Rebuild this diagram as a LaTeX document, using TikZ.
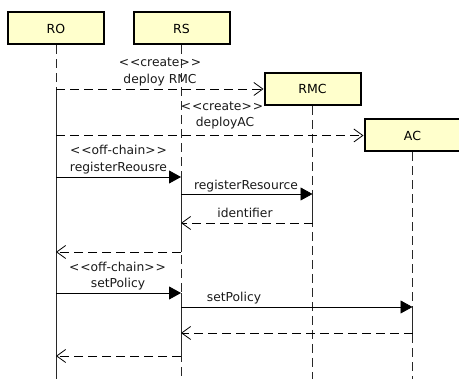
\documentclass[tikz,border=0pt]{standalone}
\usepackage{fontspec}
\setmainfont{DejaVu Sans}
\usetikzlibrary{arrows.meta}
\definecolor{headfill}{RGB}{255,255,204}
\definecolor{lineink}{RGB}{40,40,40}
\begin{document}
\begin{tikzpicture}[x=1pt,y=-1pt,
  lifehead/.style={draw=black, line width=2pt, fill=headfill,
    minimum width=96pt, minimum height=32pt, inner sep=0pt,
    font=\fontsize{12.5}{14}\selectfont},
  lifeline/.style={draw=lineink, line width=0.8pt, dash pattern=on 9pt off 5pt},
  actbar/.style={draw=lineink, line width=0.8pt},
  callmsg/.style={draw=black, line width=0.8pt,
    -{Triangle[length=12pt,width=13pt]}},
  replymsg/.style={draw=black, line width=0.8pt, dash pattern=on 9pt off 5pt,
    -{Straight Barb[length=9pt,width=13pt,line width=0.8pt]}},
  lbl/.style={font=\fontsize{12.3}{14}\selectfont, inner sep=0pt, text=black!90}
]
\useasboundingbox (0,0) rectangle (459,379);

% participants
\node[lifehead] (ro)  at (56,28.5)    {RO};
\node[lifehead] (rs)  at (181.5,28.5) {RS};
\node[lifehead] (rmc) at (312.5,89)   {RMC};
\node[lifehead] (ac)  at (412.5,135.5){AC};

% message levels
\coordinate (bottom) at (0,379);
\coordinate (rsx) at (181,0);
\coordinate (m3) at (0,177);
\coordinate (m4) at (0,194);
\coordinate (m5) at (0,223);
\coordinate (m6) at (0,252);
\coordinate (m7) at (0,293);
\coordinate (m8) at (0,307);
\coordinate (m9) at (0,333);
\coordinate (m10) at (0,356);

% lifelines
\draw[lifeline] (ro.south)  -- (ro |- bottom);
\draw[lifeline] (rsx |- rs.south) -- (rsx |- bottom);
\draw[lifeline] (rmc.south) -- (rmc |- bottom);
\draw[lifeline] (ac.south)  -- (ac |- bottom);

% execution bars
\draw[actbar] (ro |- rmc.west) -- (ro |- bottom);
\draw[actbar] (rsx |- m3) -- (rsx |- m6);
\draw[actbar] (rsx |- m7) -- (rsx |- m10);
\draw[actbar] (rmc |- m4) -- (rmc |- m5);
\draw[actbar] (ac |- m8) -- (ac |- m9);

% creation messages
\draw[replymsg] (ro |- rmc.west) -- (rmc.west);
\node[lbl] (c1a) at (160,62) {<\kern1pt<create>\kern1pt>};
\node[lbl] (c1b) at (160,80) {deploy RMC};

\draw[replymsg] (ro |- ac.west) -- (ac.west);
\node[lbl] (c2a) at (222,106) {<\kern1pt<create>\kern1pt>};
\node[lbl] (c2b) at (225,123) {deployAC};

% resource registration
\draw[callmsg] (ro |- m3) -- (rsx |- m3);
\node[lbl] (r1a) at (118.5,150) {<\kern1pt<off-chain>\kern1pt>};
\node[lbl] (r1b) at (118.5,168) {registerReousre};

\draw[callmsg] (rsx |- m4) -- (rmc |- m4);
\node[lbl] (r2) at (246,186) {registerResource};

\draw[replymsg] (rmc |- m5) -- (rsx |- m5);
\node[lbl] (r3) at (245,213) {identifier};

\draw[replymsg] (rsx |- m6) -- (ro |- m6);

% policy setting
\draw[callmsg] (ro |- m7) -- (rsx |- m7);
\node[lbl] (p1a) at (117.5,267) {<\kern1pt<off-chain>\kern1pt>};
\node[lbl] (p1b) at (118,284) {setPolicy};

\draw[callmsg] (rsx |- m8) -- (ac |- m8);
\node[lbl] (p2) at (234,298) {setPolicy};

\draw[replymsg] (ac |- m9) -- (rsx |- m9);
\draw[replymsg] (rsx |- m10) -- (ro |- m10);
\end{tikzpicture}
\end{document}
